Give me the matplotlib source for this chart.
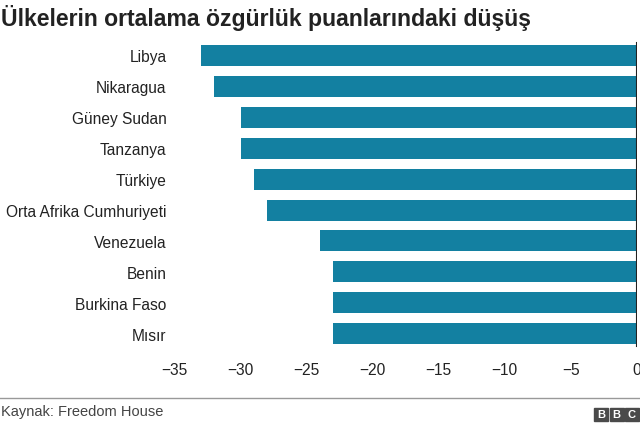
import matplotlib.pyplot as plt
from matplotlib.patches import Rectangle

plt.rcParams['font.family'] = ['Liberation Sans', 'DejaVu Sans']

countries = ['Libya', 'Nikaragua', 'Güney Sudan', 'Tanzanya', 'Türkiye',
             'Orta Afrika Cumhuriyeti', 'Venezuela', 'Benin', 'Burkina Faso', 'Mısır']
values = [-33, -32, -30, -30, -29, -28, -24, -23, -23, -23]
ticks = [-35, -30, -25, -20, -15, -10, -5, 0]

fig = plt.figure(figsize=(6.4, 4.27), dpi=100)
ax = fig.add_axes([0.273, 0.18, 0.722, 0.724])

ypos = list(range(len(countries)))
ax.barh(ypos, values, height=0.68, color='#1380A1')
ax.axvline(0, ymin=0.01, ymax=0.99, color='#222222', lw=1.5)
ax.set_ylim(len(countries) - 0.5, -0.5)
ax.set_xlim(-35, 0)
ax.set_yticks(ypos)
ax.set_yticklabels(countries, fontsize=11.2, color='#222222')
ax.set_xticks(ticks)
ax.set_xticklabels(['\u2212' + str(-t) if t < 0 else str(t) for t in ticks],
                   fontsize=11.2, color='#222222')
ax.tick_params(length=0, axis='y', pad=6)
ax.tick_params(length=0, axis='x', pad=9)
for s in ax.spines.values():
    s.set_visible(False)

fig.text(0.002, 0.988, 'Ülkelerin ortalama özgürlük puanlarındaki düşüş',
         fontsize=16.6, fontweight='bold', va='top', ha='left', color='#222222')

# footer
fig.add_artist(plt.Line2D([0, 1], [1 - 399 / 427] * 2, color='#999999', lw=1,
                          transform=fig.transFigure))
fig.text(0.002, 1 - 412 / 427, 'Kaynak: Freedom House', fontsize=10.5,
         color='#444444', va='center', ha='left')
for i, ch in enumerate('BBC'):
    x0 = 594 + i * 15.5
    fig.add_artist(Rectangle((x0 / 640, 1 - 422 / 427), 14 / 640, 13 / 427,
                             color='#4a4a4a', transform=fig.transFigure))
    fig.text((x0 + 7) / 640, 1 - 415.5 / 427, ch, fontsize=8, fontweight='bold',
             color='white', ha='center', va='center')

fig.savefig('out.png', dpi=100)
